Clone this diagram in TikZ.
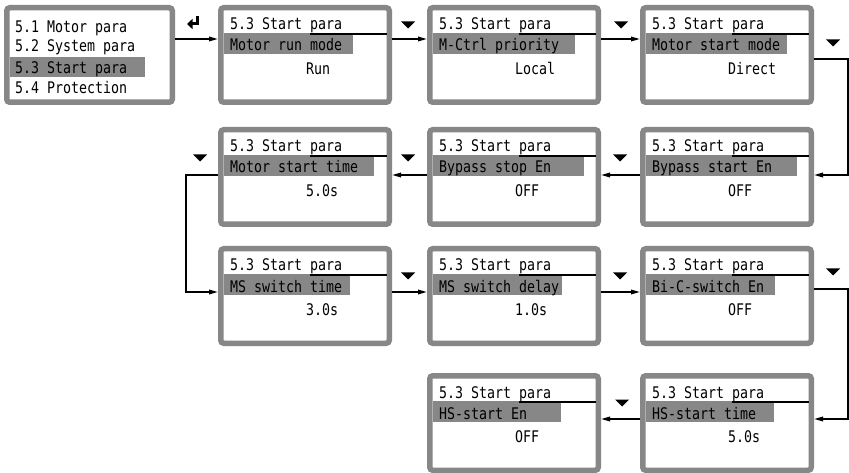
\documentclass[tikz,border=0pt]{standalone}
\usepackage{fontspec}
\newfontfamily\lcdfont[FakeStretch=0.83]{DejaVu Sans Mono}
\usepackage{tikz}
\usetikzlibrary{
    calc,
    arrows.meta
}
\definecolor{lcdgray}{HTML}{878787}

% one display screen: name, x, y, item, value, end of highlight
\newcommand{\lcdscreen}[6]{%
  \begin{scope}[shift={(#2,#3)}]
    \node[screen] (#1) at (87,50) {};
    \fill[band] (5.5,28) rectangle (#6,49);
    \draw[rule] (92,29) -- (168.5,29);
    \node[lcdtext] (#1-t) at (12,25) {5.3 Start para};
    \node[lcdtext] (#1-i) at (12,46) {#4};
    \node[lcdtext] (#1-v) at (88,69.5) {#5};
  \end{scope}}

\begin{document}
\begin{tikzpicture}[x=1pt,y=-1pt,
    screen/.style={draw=lcdgray, fill=white, line width=5.5pt, rounded corners=3pt,
      minimum width=168.5pt, minimum height=94.5pt, inner sep=0pt},
    band/.style={fill=lcdgray},
    rule/.style={line width=1.5pt},
    lcdtext/.style={anchor=base west, inner sep=0pt, font=\lcdfont\fontsize{16}{16}\selectfont},
    flow/.style={line width=1.6pt, -{Triangle[length=9pt,width=4.5pt]}}]

\fill[white] (0,0) rectangle (849,473);
\useasboundingbox (0,0) rectangle (849,473);

% menu
\node[screen, minimum width=165.5pt] (menu) at (89.5,55) {};
\fill[band] (9.5,57) rectangle (145,77);
\node[lcdtext] (m1) at (15,32.5) {5.1 Motor para};
\node[lcdtext] (m2) at (15,51.5) {5.2 System para};
\node[lcdtext] (m3) at (15,73.5) {5.3 Start para};
\node[lcdtext] (m4) at (15,93.5) {5.4 Protection};

\lcdscreen{a1}{218}{5}{Motor run mode}{Run}{135}
\lcdscreen{b1}{427}{5}{M-Ctrl priority}{Local}{148}
\lcdscreen{c1}{640}{5}{Motor start mode}{Direct}{147}
\lcdscreen{a2}{218}{127}{Motor start time}{5.0s}{156}
\lcdscreen{b2}{427}{127}{Bypass stop En}{OFF}{157}
\lcdscreen{c2}{640}{127}{Bypass start En}{OFF}{157}
\lcdscreen{a3}{218}{246}{MS switch time}{3.0s}{132}
\lcdscreen{b3}{427}{246}{MS switch delay}{1.0s}{135}
\lcdscreen{c3}{640}{246}{Bi-C-switch En}{OFF}{135}
\lcdscreen{b4}{427}{373}{HS-start En}{OFF}{134}
\lcdscreen{c4}{640}{373}{HS-start time}{5.0s}{134}

% connectors
\draw[flow] (menu.east |- 0,39) -- (a1.west |- 0,39);
\draw[flow] (a1.east |- 0,39) -- (b1.west |- 0,39);
\draw[flow] (b1.east |- 0,39) -- (c1.west |- 0,39);
\draw[flow] (c1.east |- 0,59) -- ++(34,0) |- (c2.east |- 0,175);
\draw[flow] (c2.west |- 0,175) -- (b2.east |- 0,175);
\draw[flow] (b2.west |- 0,175) -- (a2.east |- 0,175);
\draw[flow] (a2.west |- 0,175) -- ++(-32,0) |- (a3.west |- 0,292);
\draw[flow] (a3.east |- 0,292) -- (b3.west |- 0,292);
\draw[flow] (b3.east |- 0,292) -- (c3.west |- 0,292);
\draw[flow] (c3.east |- 0,289) -- ++(34,0) |- (c4.east |- 0,419);
\draw[flow] (c4.west |- 0,419) -- (b4.east |- 0,419);

% key marks
\draw[line width=3pt, -{Triangle[length=5.5pt,width=10pt]}] (197.5,16) -- (197.5,24) -- (187,24);
\foreach \x/\y in {408/25, 621/25, 833/43, 200/158, 408/158, 620/158,
                   408/276, 620/276, 833/272, 622/403}
  \fill (\x-7,\y-3.5) -- (\x+7,\y-3.5) -- (\x,\y+3.5) -- cycle;

\end{tikzpicture}
\end{document}
